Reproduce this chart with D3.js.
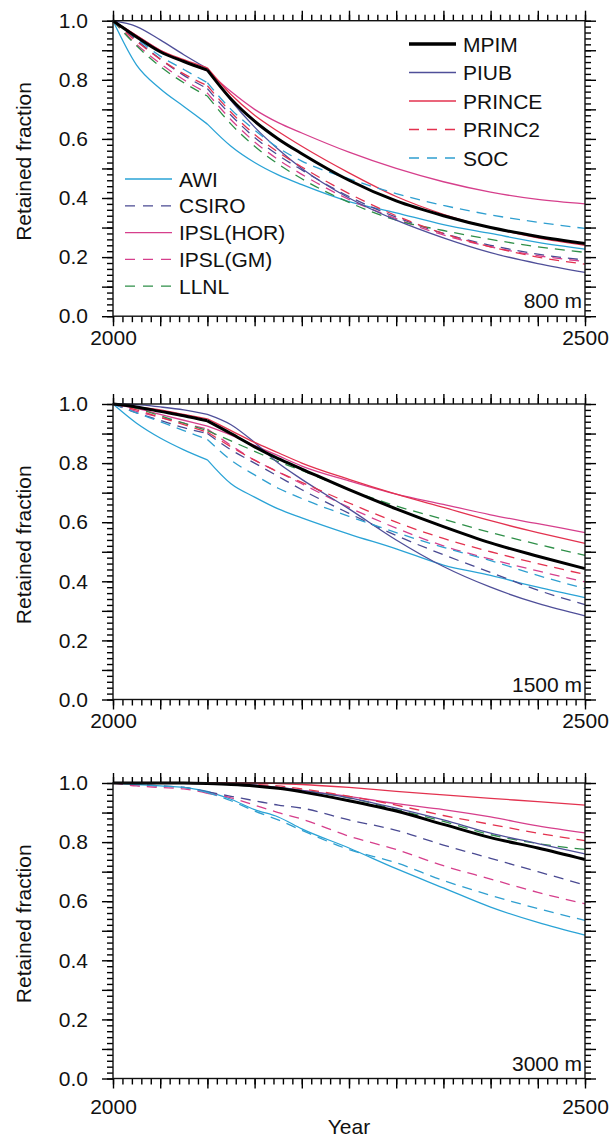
<!DOCTYPE html>
<html>
<head>
<meta charset="utf-8">
<script src="https://cdn.jsdelivr.net/npm/d3@7"></script>
<style>
  body { margin: 0; background: #fff; }
  svg { display: block; font-family: "Liberation Sans", Arial, sans-serif; }
</style>
</head>
<body>
<svg id="chart" width="611" height="1138"></svg>
<script>
const years = [2000, 2025, 2050, 2075, 2100, 2125, 2150, 2175, 2200, 2250, 2300, 2350, 2400, 2450, 2500];

const models = ["AWI", "CSIRO", "IPSL(HOR)", "IPSL(GM)", "LLNL", "MPIM", "PIUB", "PRINCE", "PRINC2", "SOC"];
const legendRight = ["MPIM", "PIUB", "PRINCE", "PRINC2", "SOC"];
const legendLeft = ["AWI", "CSIRO", "IPSL(HOR)", "IPSL(GM)", "LLNL"];
const depths = ["800 m", "1500 m", "3000 m"];
const yTickLabels = [0, 0.2, 0.4, 0.6, 0.8, 1.0];
const xTickLabels = [2000, 2500];

// retained fraction
const d800 = {
  "MPIM":      [1.0, .945, .895, .862, .833, .735, .66, .60, .55, .46, .39, .34, .30, .27, .246],
  "PIUB":      [1.0, .98, .935, .885, .838, .73, .64, .565, .50, .40, .325, .265, .215, .178, .148],
  "PRINCE":    [1.0, .95, .90, .868, .84, .75, .68, .625, .575, .485, .405, .345, .30, .265, .24],
  "PRINC2":    [1.0, .93, .87, .82, .78, .69, .615, .555, .505, .415, .34, .28, .235, .20, .176],
  "SOC":       [1.0, .94, .88, .835, .79, .70, .63, .57, .525, .465, .415, .375, .343, .318, .297],
  "AWI":       [1.0, .85, .77, .71, .65, .575, .52, .478, .445, .388, .35, .31, .28, .25, .227],
  "CSIRO":     [1.0, .935, .87, .815, .77, .68, .605, .545, .495, .405, .335, .28, .24, .21, .19],
  "IPSL(HOR)": [1.0, .95, .90, .862, .83, .76, .70, .655, .62, .555, .50, .455, .42, .395, .38],
  "IPSL(GM)":  [1.0, .92, .855, .80, .755, .665, .59, .53, .48, .395, .33, .275, .235, .205, .185],
  "LLNL":      [1.0, .915, .845, .79, .745, .65, .575, .515, .465, .385, .325, .29, .26, .235, .216]
};

const d1500 = {
  "MPIM":      [1.0, .99, .975, .96, .943, .90, .855, .815, .78, .71, .645, .585, .53, .485, .443],
  "PIUB":      [1.0, .998, .99, .98, .965, .93, .87, .80, .745, .645, .54, .45, .38, .325, .283],
  "PRINCE":    [1.0, .99, .98, .965, .95, .91, .87, .835, .80, .745, .695, .65, .605, .565, .528],
  "PRINC2":    [1.0, .98, .955, .93, .905, .855, .81, .77, .735, .665, .60, .545, .50, .46, .423],
  "SOC":       [1.0, .97, .94, .91, .88, .81, .76, .715, .68, .62, .565, .515, .47, .42, .375],
  "AWI":       [1.0, .935, .885, .845, .811, .73, .685, .645, .615, .56, .51, .455, .42, .38, .345],
  "CSIRO":     [1.0, .97, .945, .92, .90, .845, .80, .755, .71, .63, .555, .49, .43, .37, .321],
  "IPSL(HOR)": [1.0, .985, .965, .945, .925, .895, .86, .825, .79, .74, .695, .66, .625, .595, .565],
  "IPSL(GM)":  [1.0, .975, .955, .935, .915, .86, .81, .77, .73, .65, .58, .52, .475, .435, .398],
  "LLNL":      [1.0, .985, .96, .935, .91, .875, .84, .805, .775, .71, .655, .61, .565, .525, .488]
};

const d3000 = {
  "MPIM":      [1.0, 1.0, 1.0, 1.0, .998, .995, .99, .982, .97, .94, .905, .86, .815, .78, .741],
  "PIUB":      [1.0, 1.0, 1.0, 1.0, .999, .997, .993, .985, .975, .95, .915, .875, .83, .795, .76],
  "PRINCE":    [1.0, 1.0, 1.0, 1.0, 1.0, 1.0, 1.0, .998, .995, .985, .972, .96, .948, .937, .925],
  "PRINC2":    [1.0, 1.0, 1.0, 1.0, 1.0, .998, .995, .99, .98, .955, .925, .89, .86, .83, .805],
  "SOC":       [1.0, .995, .99, .985, .968, .94, .905, .875, .84, .775, .73, .67, .62, .575, .535],
  "AWI":       [1.0, .995, .99, .985, .972, .945, .91, .885, .845, .78, .71, .645, .58, .528, .485],
  "CSIRO":     [1.0, .995, .99, .985, .97, .955, .94, .925, .915, .875, .84, .79, .745, .70, .654],
  "IPSL(HOR)": [1.0, 1.0, 1.0, 1.0, 1.0, .998, .993, .985, .975, .955, .93, .91, .885, .855, .831],
  "IPSL(GM)":  [1.0, .99, .985, .98, .965, .95, .925, .90, .878, .82, .775, .72, .675, .63, .591],
  "LLNL":      [1.0, 1.0, 1.0, 1.0, .999, .996, .992, .985, .975, .95, .91, .87, .825, .795, .775]
};

const panelData = [d800, d1500, d3000];

const colors = {
  "AWI": "#2aa3d6", "CSIRO": "#4a4a92", "IPSL(HOR)": "#d63f8c", "IPSL(GM)": "#d63f8c",
  "LLNL": "#2e8f48", "MPIM": "#000000", "PIUB": "#4f4f99", "PRINCE": "#e3324f",
  "PRINC2": "#e3324f", "SOC": "#2f9fd0"
};
const dashed = new Set(["CSIRO", "IPSL(GM)", "LLNL", "PRINC2", "SOC"]);

const svg = d3.select("#chart");
const left = 113, right = 585, plotH = 295.5;
const tops = [20.7, 404, 783];
const xLabelPad = [4, 4, 11];

const x = d3.scaleLinear().domain([2000, 2500]).range([left, right]);
const line = d3.line().curve(d3.curveMonotoneX);

function tickStyle(g) {
  g.select(".domain").remove();
  g.selectAll(".tick line").attr("stroke", "#000").attr("stroke-width", 1.4);
  g.selectAll(".tick text").attr("fill", "#111").style("font-size", "21px")
    .style("font-family", "'Liberation Sans', Arial, sans-serif");
}

tops.forEach((top, i) => {
  const bottom = top + plotH;
  const y = d3.scaleLinear().domain([0, 1]).range([bottom, top]);
  const g = svg.append("g");
  const data = panelData[i];

  // minor and major ticks on all four sides
  const minorX = d3.range(2000, 2501, 10);
  const majorX = d3.range(2000, 2501, 50);
  const minorY = d3.range(0, 1.001, 0.02);
  const majorY = d3.range(0, 1.001, 0.1);

  g.append("g").attr("transform", `translate(0,${bottom})`)
    .call(d3.axisBottom(x).tickValues(minorX).tickSize(6).tickSizeOuter(0).tickFormat(""))
    .call(tickStyle);
  g.append("g").attr("transform", `translate(0,${bottom})`)
    .call(d3.axisBottom(x).tickValues(majorX).tickSize(10).tickSizeOuter(0).tickPadding(xLabelPad[i])
      .tickFormat(d => xTickLabels.includes(d) ? d : ""))
    .call(tickStyle);
  g.append("g").attr("transform", `translate(0,${top})`)
    .call(d3.axisTop(x).tickValues(minorX).tickSize(6).tickSizeOuter(0).tickFormat(""))
    .call(tickStyle);
  g.append("g").attr("transform", `translate(0,${top})`)
    .call(d3.axisTop(x).tickValues(majorX).tickSize(10).tickSizeOuter(0).tickFormat(""))
    .call(tickStyle);

  g.append("g").attr("transform", `translate(${left},0)`)
    .call(d3.axisLeft(y).tickValues(minorY).tickSize(6).tickSizeOuter(0).tickFormat(""))
    .call(tickStyle);
  g.append("g").attr("transform", `translate(${left},0)`)
    .call(d3.axisLeft(y).tickValues(majorY).tickSize(11).tickSizeOuter(0).tickPadding(14)
      .tickFormat(d => yTickLabels.some(v => Math.abs(v - d) < 1e-6) ? d3.format(".1f")(d) : ""))
    .call(tickStyle);
  g.append("g").attr("transform", `translate(${right},0)`)
    .call(d3.axisRight(y).tickValues(minorY).tickSize(6).tickSizeOuter(0).tickFormat(""))
    .call(tickStyle);
  g.append("g").attr("transform", `translate(${right},0)`)
    .call(d3.axisRight(y).tickValues(majorY).tickSize(11).tickSizeOuter(0).tickFormat(""))
    .call(tickStyle);

  // curves, split at 2100 so the kink stays sharp
  line.x(d => x(d[0])).y(d => y(d[1]));
  const order = models.filter(m => m !== "MPIM").concat(["MPIM"]);
  order.forEach(m => {
    const pts = years.map((yr, k) => [yr, data[m][k]]);
    const a = pts.filter(p => p[0] <= 2100);
    const b = pts.filter(p => p[0] >= 2100);
    g.append("path")
      .attr("d", line(a) + line(b))
      .attr("fill", "none")
      .attr("stroke", colors[m])
      .attr("stroke-width", m === "MPIM" ? 3 : 1.3)
      .attr("stroke-dasharray", dashed.has(m) ? "10,7" : null);
  });

  g.append("rect")
    .attr("x", left).attr("y", top)
    .attr("width", right - left).attr("height", plotH)
    .attr("fill", "none").attr("stroke", "#111").attr("stroke-width", 1.4);

  g.append("text")
    .attr("x", right - 3).attr("y", bottom - 8)
    .attr("text-anchor", "end")
    .style("font-size", "21px").attr("fill", "#111")
    .text(depths[i]);

  g.append("text")
    .attr("transform", `translate(31,${(top + bottom) / 2 - 7}) rotate(-90)`)
    .attr("text-anchor", "middle")
    .style("font-size", "21px").attr("fill", "#111")
    .text("Retained fraction");
});

svg.append("text")
  .attr("x", (left + right) / 2).attr("y", 1134)
  .attr("text-anchor", "middle")
  .style("font-size", "21px").attr("fill", "#111")
  .text("Year");

// legend in the top panel
function drawLegend(names, x0, y0, step) {
  names.forEach((m, k) => {
    const yy = y0 + k * step;
    svg.append("line")
      .attr("x1", x0).attr("x2", x0 + 47)
      .attr("y1", yy).attr("y2", yy)
      .attr("stroke", colors[m])
      .attr("stroke-width", m === "MPIM" ? 3.5 : 1.3)
      .attr("stroke-dasharray", dashed.has(m) ? "10,8" : null);
    svg.append("text")
      .attr("x", x0 + 54).attr("y", yy)
      .attr("dy", "0.36em")
      .style("font-size", "21px").attr("fill", "#111")
      .text(m);
  });
}
drawLegend(legendRight, 409, 44, 28.5);
drawLegend(legendLeft, 125, 179, 26.8);
</script>
</body>
</html>
